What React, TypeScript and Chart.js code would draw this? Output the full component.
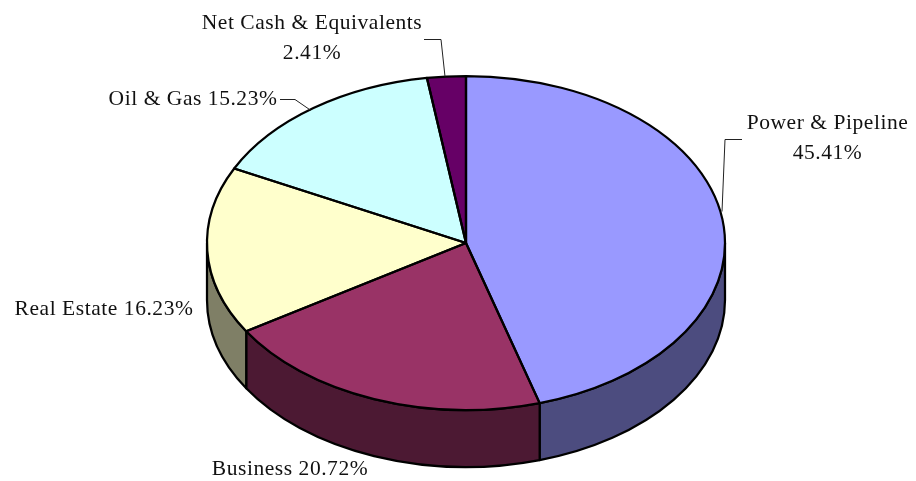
import React, { useEffect, useRef } from "react";
import { Chart, registerables } from "chart.js";

Chart.register(...registerables);

const categories = ["Power & Pipeline", "Business", "Real Estate", "Oil & Gas", "Net Cash & Equivalents"];
const shares = [45.41, 20.72, 16.23, 15.23, 2.41];
const topColors = ["#9999FF", "#993366", "#FFFFCC", "#CCFFFF", "#660066"];
const sideColors = ["#4C4C7F", "#4C1933", "#7F7F66", "#667F7F", "#330033"];

const TILT = 167 / 259;
const DEPTH = 57;
const FONT = '21.5px "Liberation Serif", "Times New Roman", serif';
const SPACING = "0.55px";

const labelLayout = [
  { lines: [`${categories[0]}`, `${shares[0].toFixed(2)}%`], x: 827.5, y: 129, leader: [[742, 139], [725, 139], [722, 211]] },
  { lines: [`${categories[1]} ${shares[1].toFixed(2)}%`], x: 290, y: 475, leader: null },
  { lines: [`${categories[2]} ${shares[2].toFixed(2)}%`], x: 104, y: 315, leader: null },
  { lines: [`${categories[3]} ${shares[3].toFixed(2)}%`], x: 193, y: 105, leader: [[280, 99], [295, 99], [311, 110]] },
  { lines: [`${categories[4]}`, `${shares[4].toFixed(2)}%`], x: 312, y: 29, leader: [[424, 39], [441, 39], [445, 76]] },
];

const tiltPlugin = {
  id: "tilt",
  beforeDatasetsDraw(chart: any) {
    const ctx = chart.ctx;
    const arcs = chart.getDatasetMeta(0).data;
    const { x: cx, y: cy, outerRadius: rx } = arcs[0];
    const ry = rx * TILT;
    ctx.save();
    ctx.lineWidth = 2.25;
    ctx.strokeStyle = "#000";
    ctx.lineJoin = "round";
    arcs.forEach((arc: any, i: number) => {
      const a0 = Math.max(arc.startAngle, 0);
      const a1 = Math.min(arc.endAngle, Math.PI);
      if (a1 <= a0) return;
      ctx.beginPath();
      ctx.ellipse(cx, cy, rx, ry, 0, a0, a1, false);
      ctx.lineTo(cx + rx * Math.cos(a1), cy + ry * Math.sin(a1) + DEPTH);
      ctx.ellipse(cx, cy + DEPTH, rx, ry, 0, a1, a0, true);
      ctx.closePath();
      ctx.fillStyle = sideColors[i];
      ctx.fill();
      ctx.stroke();
    });
    ctx.restore();
    ctx.save();
    ctx.translate(cx, cy);
    ctx.scale(1, TILT);
    ctx.translate(-cx, -cy);
  },
  afterDatasetsDraw(chart: any) {
    const ctx = chart.ctx;
    ctx.restore();
    const arcs = chart.getDatasetMeta(0).data;
    const { x: cx, y: cy, outerRadius: rx } = arcs[0];
    const ry = rx * TILT;
    ctx.save();
    ctx.lineWidth = 2.25;
    ctx.strokeStyle = "#000";
    ctx.lineJoin = "round";
    arcs.forEach((arc: any) => {
      ctx.beginPath();
      ctx.moveTo(cx, cy);
      ctx.ellipse(cx, cy, rx, ry, 0, arc.startAngle, arc.endAngle, false);
      ctx.closePath();
      ctx.stroke();
    });
    ctx.lineWidth = 1;
    ctx.strokeStyle = "#222";
    ctx.font = FONT;
    ctx.letterSpacing = SPACING;
    ctx.fillStyle = "#111";
    ctx.textAlign = "center";
    ctx.textBaseline = "alphabetic";
    labelLayout.forEach((l) => {
      if (l.leader) {
        ctx.beginPath();
        l.leader.forEach(([px, py], k) => (k ? ctx.lineTo(px, py + 0.5) : ctx.moveTo(px, py + 0.5)));
        ctx.stroke();
      }
      l.lines.forEach((t, k) => ctx.fillText(t, l.x, l.y + k * 30));
    });
    ctx.restore();
  },
};

export default function App() {
  const ref = useRef<HTMLCanvasElement>(null);
  useEffect(() => {
    const chart = new Chart(ref.current!, {
      type: "pie",
      data: {
        labels: categories,
        datasets: [{ data: shares, backgroundColor: topColors, borderWidth: 0, clip: false } as any],
      },
      options: {
        animation: false,
        responsive: false,
        radius: 259,
        layout: { padding: { left: 16, top: 5 } },
        plugins: { legend: { display: false }, tooltip: { enabled: false } },
      } as any,
      plugins: [tiltPlugin],
    });
    return () => chart.destroy();
  }, []);
  return (
    <div style={{ position: "absolute", left: 0, top: 0, width: 916, height: 481, background: "#fff" }}>
      <canvas ref={ref} width={916} height={481} style={{ display: "block" }} />
    </div>
  );
}
